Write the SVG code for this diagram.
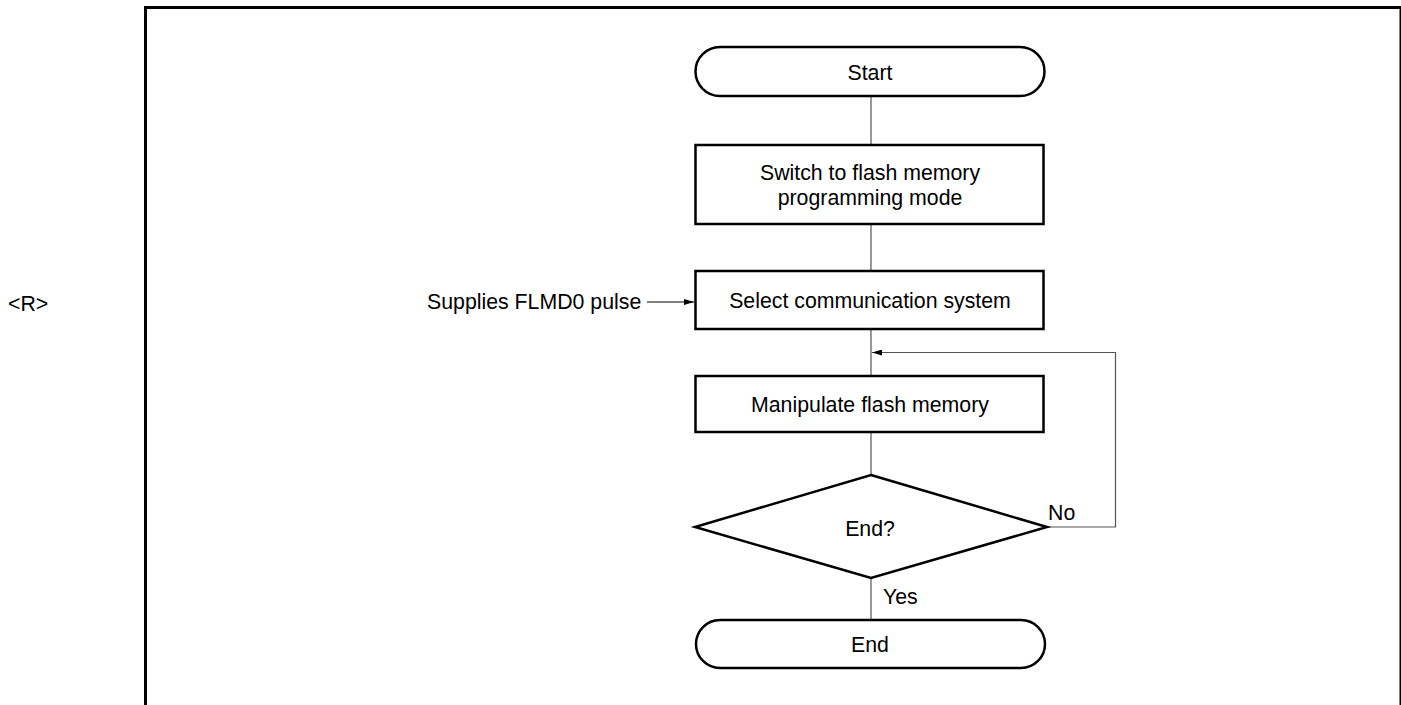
<svg xmlns="http://www.w3.org/2000/svg" width="1401" height="705" viewBox="0 0 1401 705">
<style>
.node{fill:#fff;stroke:#000;stroke-width:2.5}
.conn{fill:none;stroke:#555;stroke-width:1.2}
.t{font-family:"Liberation Sans",Arial,sans-serif;font-size:21.3px;fill:#000}
.c{text-anchor:middle}
</style>
<defs>
<marker id="ah" viewBox="0 0 10 6" refX="10" refY="3" markerWidth="10" markerHeight="6" markerUnits="userSpaceOnUse" orient="auto">
<path d="M0,0 L10,3 L0,6 Z" fill="#000"/>
</marker>
</defs>
<rect width="1401" height="705" fill="#fff"/>
<path d="M145.5,705 V7.5 H1401 V705" fill="none" stroke="#000" stroke-width="3"/>
<text class="t" x="8" y="311">&lt;R&gt;</text>
<g id="connectors">
<line class="conn" x1="871" y1="96" x2="871" y2="145"/>
<line class="conn" x1="871" y1="224" x2="871" y2="271"/>
<line class="conn" x1="871" y1="329" x2="871" y2="376"/>
<line class="conn" x1="871" y1="432" x2="871" y2="475"/>
<line class="conn" x1="871" y1="578" x2="871" y2="620"/>
<path class="conn" d="M1047,527 H1115.5 V352.5 H872" stroke="#333" marker-end="url(#ah)"/>
<line x1="647" y1="302" x2="694" y2="302" stroke="#000" stroke-width="1.2" marker-end="url(#ah)"/>
<text class="t" x="427" y="309">Supplies FLMD0 pulse</text>
<text class="t" x="1048" y="520">No</text>
<text class="t" x="883" y="604">Yes</text>
</g>
<g id="start">
<rect class="node" x="695.5" y="47" width="349" height="49" rx="24.5"/>
<text class="t c" x="870" y="80">Start</text>
</g>
<g id="switch">
<rect class="node" x="695.5" y="145" width="348" height="79"/>
<text class="t c" x="870" y="180">Switch to flash memory</text>
<text class="t c" x="870" y="205">programming mode</text>
</g>
<g id="select">
<rect class="node" x="695.5" y="271" width="348" height="58"/>
<text class="t c" x="870" y="308">Select communication system</text>
</g>
<g id="manipulate">
<rect class="node" x="695.5" y="376" width="348" height="56"/>
<text class="t c" x="870" y="412">Manipulate flash memory</text>
</g>
<g id="decision">
<polygon class="node" points="871,475 1047,527 871,578 695,527"/>
<text class="t c" x="870" y="536">End?</text>
</g>
<g id="end">
<rect class="node" x="696" y="620" width="349" height="48" rx="24"/>
<text class="t c" x="870" y="652">End</text>
</g>
</svg>
